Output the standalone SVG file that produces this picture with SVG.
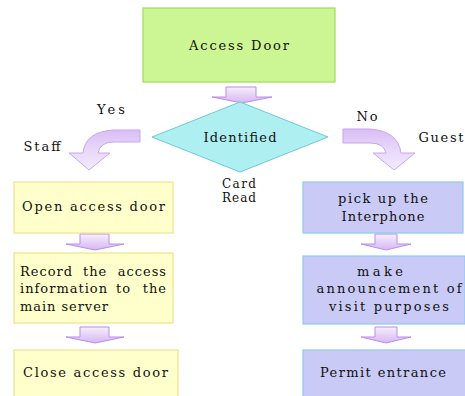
<svg xmlns="http://www.w3.org/2000/svg" width="465" height="396" viewBox="0 0 465 396">
  <defs>
    <linearGradient id="arrowFill" x1="0" y1="0" x2="0" y2="1">
      <stop offset="0" stop-color="#f6effd"/>
      <stop offset="1" stop-color="#d6b6f3"/>
    </linearGradient>
    <linearGradient id="bendFill" x1="0" y1="0" x2="0" y2="1">
      <stop offset="0" stop-color="#d9bdf5"/>
      <stop offset="0.5" stop-color="#e8d8f9"/>
      <stop offset="1" stop-color="#f3ebfc"/>
    </linearGradient>
  </defs>
  <style>
    text { font-family: "DejaVu Serif", "Liberation Serif", serif; font-size: 13px; fill: #111; }
    .mid { text-anchor: middle; }
    .end { text-anchor: end; }
    .small { font-size: 12px; }
    .spread { letter-spacing: 1px; }
    .start { fill: #ccf593; stroke: #9edc5a; stroke-width: 1.2; }
    .decision { fill: #aef0f2; stroke: #6cc9d6; stroke-width: 1; }
    .staff { fill: #ffffcc; stroke: #f2e28e; stroke-width: 1.2; }
    .guest { fill: #cacaf6; stroke: #8cc8ee; stroke-width: 1.2; }
    .arrow { fill: url(#arrowFill); stroke: #b98ee6; stroke-width: 1; }
    .bend { fill: url(#bendFill); stroke: #c8a6ef; stroke-width: 1; }
  </style>

  <rect width="465" height="396" fill="#ffffff"/>

  <!-- connectors: block arrows -->
  <g id="connectors">
    <path class="arrow" d="M226,87 H256 V97 H272 L242,103 L212,97 H226 Z"/>
    <path class="bend" d="M140,130 H113 Q85,132 83,153 H69 L89,170 L110,153 H98 Q100,142 114,142 H140 Z"/>
    <path class="bend" d="M343,129 H370 Q398,131 401,153 H415 L394,170 L373,153 H386 Q384,143 370,143 H343 Z"/>
    <path class="arrow" d="M80,234 H109 V244 H124 L95,250 L66,244 H80 Z"/>
    <path class="arrow" d="M80,327 H109 V337 H124 L95,343 L66,337 H80 Z"/>
    <path class="arrow" d="M375,234 H397 V244 H411 L386,250 L361,244 H375 Z"/>
    <path class="arrow" d="M375,327 H397 V337 H411 L386,343 L361,337 H375 Z"/>
  </g>

  <!-- branch labels -->
  <g id="labels">
    <text x="111" y="114" class="mid" textLength="28" lengthAdjust="spacing">Yes</text>
    <text x="367" y="121" class="mid" textLength="21" lengthAdjust="spacing">No</text>
    <text x="42" y="151" class="mid" textLength="37" lengthAdjust="spacing">Staff</text>
    <text x="441" y="142" class="mid" textLength="45" lengthAdjust="spacing">Guest</text>
    <text x="239" y="188" class="mid small" textLength="34" lengthAdjust="spacing">Card</text>
    <text x="239" y="202" class="mid small" textLength="34" lengthAdjust="spacing">Read</text>
  </g>

  <g id="access-door">
    <rect class="start" x="143" y="8" width="192" height="74"/>
    <text x="239" y="50" class="mid" textLength="100" lengthAdjust="spacing">Access Door</text>
  </g>

  <g id="identified">
    <polygon class="decision" points="240,102 328,137 240,172 152,137"/>
    <text x="240" y="142" class="mid" textLength="73" lengthAdjust="spacing">Identified</text>
  </g>

  <g id="open-door">
    <rect class="staff" x="14" y="182" width="159" height="51"/>
    <text x="22" y="211" textLength="143" lengthAdjust="spacing">Open access door</text>
  </g>

  <g id="record-access">
    <rect class="staff" x="14" y="253" width="159" height="70"/>
    <text y="276" class="spread"><tspan x="20">Record</tspan><tspan x="83">the</tspan></text>
    <text x="167" y="276" class="spread end">access</text>
    <text y="293" class="spread"><tspan x="20">information</tspan><tspan x="116">to</tspan></text>
    <text x="167" y="293" class="spread end">the</text>
    <text x="20" y="311" textLength="88" lengthAdjust="spacing">main server</text>
  </g>

  <g id="close-door">
    <rect class="staff" x="14" y="350" width="164" height="52"/>
    <text x="23" y="377" textLength="145" lengthAdjust="spacing">Close access door</text>
  </g>

  <g id="pick-up-interphone">
    <rect class="guest" x="303" y="182" width="160" height="51"/>
    <text x="383" y="203" class="mid" textLength="90" lengthAdjust="spacing">pick up the</text>
    <text x="383" y="221" class="mid" textLength="83" lengthAdjust="spacing">Interphone</text>
  </g>

  <g id="announce-purpose">
    <rect class="guest" x="303" y="256" width="162" height="68"/>
    <text x="380" y="276" class="mid" textLength="46" lengthAdjust="spacing">make</text>
    <text x="389" y="293" class="mid" textLength="145" lengthAdjust="spacing">announcement of</text>
    <text x="389" y="311" class="mid" textLength="120" lengthAdjust="spacing">visit purposes</text>
  </g>

  <g id="permit-entrance">
    <rect class="guest" x="303" y="350" width="164" height="52"/>
    <text x="383" y="377" class="mid" textLength="126" lengthAdjust="spacing">Permit entrance</text>
  </g>
</svg>
